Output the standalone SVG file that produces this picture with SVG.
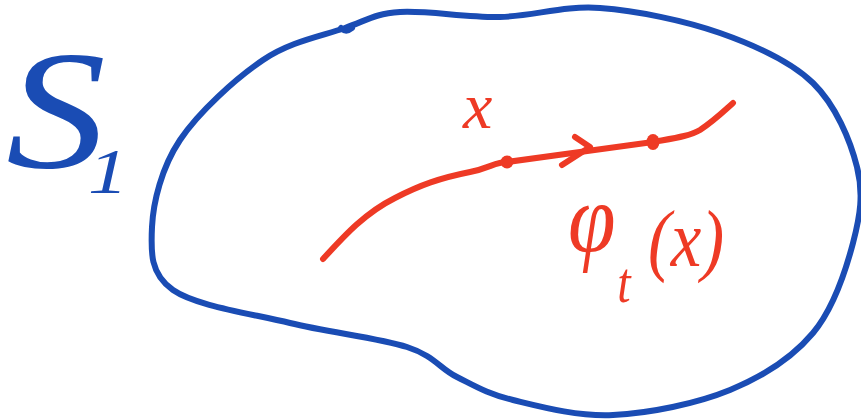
<svg xmlns="http://www.w3.org/2000/svg" width="861" height="420" viewBox="0 0 861 420">
<style>
.blue{fill:none;stroke:#1a4cb4;stroke-width:6;stroke-linecap:round;stroke-linejoin:round}
.red{fill:none;stroke:#ee3a25;stroke-width:6;stroke-linecap:round;stroke-linejoin:round}
.dot{fill:#ee3a25}
.lb{fill:#1a4cb4;font-family:"Liberation Serif","DejaVu Serif",serif;font-style:italic}
.lr{fill:#ee3a25;font-family:"Liberation Serif","DejaVu Serif",serif;font-style:italic}
</style>
<rect width="861" height="420" fill="#ffffff"/>
<g id="region-S1">
<path class="blue" d="M345,28 C367.8,20 374.2,13.8 400,12 C425.8,10.2 466.7,17.7 500,17 C533.3,16.3 563.3,5.3 600,8 C636.7,10.7 684.5,20.5 720,33 C755.5,45.5 790.2,60.7 813,83 C835.8,105.3 850.3,140.3 857,167 C863.7,193.7 860.3,215.3 853,243 C845.7,270.7 833.5,308.5 813,333 C792.5,357.5 763.3,376.3 730,390 C696.7,403.7 649.2,413.3 613,415 C576.8,416.7 539,406.3 513,400 C487,393.7 474.7,385.8 457,377 C439.3,368.2 434.8,356 407,347 C379.2,338 329,332.5 290,323 C251,313.5 196,306 173,290 C150,274 150.8,252 152,227 C153.2,202 161.5,167.8 180,140 C198.5,112.2 235.5,78.7 263,60 C290.5,41.3 322.2,36 345,28 Z"/>
<path class="blue" d="M341,28 Q346,33 352,28"/>
<text class="lb" x="6" y="167" font-size="170" textLength="100" lengthAdjust="spacingAndGlyphs">S</text>
<text class="lb" x="88" y="193" font-size="64" textLength="40" lengthAdjust="spacingAndGlyphs">1</text>
</g>
<g id="connectors">
<path id="trajectory" class="red" d="M323,259 C345,235 365,213 395,198 C420,185 440,178 470,172 C490,168 495,162 507,162 L580,152 L653,142 C675,138 690,136 700,130 C715,120 725,110 733,103"/>
<path class="red" d="M575,137 L590,147 L562,165"/>
</g>
<g id="point-x">
<circle class="dot" cx="507" cy="162" r="6.5"/>
<text class="lr" x="463" y="128" font-size="66">x</text>
</g>
<g id="point-phi">
<ellipse class="dot" cx="653" cy="142" rx="6.5" ry="8"/>
<text class="lr" transform="translate(568,252) scale(0.86,1)" font-size="100">φ<tspan font-size="56" dx="2" dy="50">t</tspan><tspan font-size="80" dx="20" dy="-36">(x)</tspan></text>
</g>
</svg>
